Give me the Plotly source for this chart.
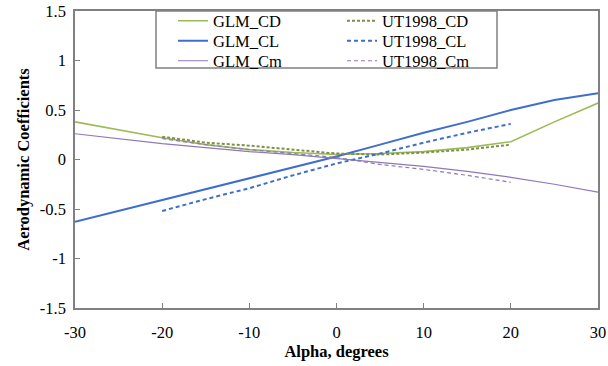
import plotly.graph_objects as go

alpha_glm = [-30, -25, -20, -15, -10, -5, 0, 5, 10, 15, 20, 25, 30]
glm_cd = [0.38, 0.30, 0.22, 0.15, 0.10, 0.07, 0.05, 0.06, 0.08, 0.12, 0.18, 0.38, 0.57]
glm_cl = [-0.63, -0.52, -0.41, -0.30, -0.19, -0.08, 0.03, 0.15, 0.27, 0.38, 0.50, 0.60, 0.67]
glm_cm = [0.26, 0.21, 0.16, 0.12, 0.08, 0.05, 0.01, -0.03, -0.07, -0.12, -0.18, -0.25, -0.33]

alpha_ut = [-20, -15, -10, -5, 0, 5, 10, 15, 20]
ut_cd = [0.23, 0.17, 0.14, 0.10, 0.06, 0.05, 0.07, 0.10, 0.15]
ut_cl = [-0.52, -0.40, -0.29, -0.16, -0.04, 0.06, 0.17, 0.27, 0.36]
ut_cm = [0.21, 0.15, 0.10, 0.06, 0.02, -0.05, -0.10, -0.16, -0.23]

x_ticks = [-30, -20, -10, 0, 10, 20, 30]
x_tick_text = ["-30", "-20", "-10", "0", "10", "20", "30"]
y_ticks = [-1.5, -1, -0.5, 0, 0.5, 1, 1.5]
y_tick_text = ["-1.5", "-1", "-0.5", "0", "0.5", "1", "1.5"]

GREEN = "#9BBB59"
BLUE = "#3F6FCB"
PURPLE = "#8E78B8"
FONT = "Liberation Serif, Times New Roman, serif"
FS = 16.5

# plot area in pixels: left 75, top 11, width 523, height 297
def px_x(p):
    return (p - 75) / 523

def px_y(p):
    return 1 - (p - 11) / 297

fig = go.Figure()
fig.add_trace(go.Scatter(x=alpha_glm, y=glm_cd, name="GLM_CD", mode="lines", showlegend=True,
                         line=dict(color=GREEN, width=1.6), legend="legend"))
fig.add_trace(go.Scatter(x=alpha_glm, y=glm_cl, name="GLM_CL", mode="lines", showlegend=True,
                         line=dict(color=BLUE, width=2), legend="legend2"))
fig.add_trace(go.Scatter(x=alpha_glm, y=glm_cm, name="GLM_Cm", mode="lines", showlegend=True,
                         line=dict(color=PURPLE, width=1.2), legend="legend3"))
fig.add_trace(go.Scatter(x=alpha_ut, y=ut_cd, name="UT1998_CD", mode="lines", showlegend=True,
                         line=dict(color="#7F8F4A", width=2, dash="3px,2px"), legend="legend4"))
fig.add_trace(go.Scatter(x=alpha_ut, y=ut_cl, name="UT1998_CL", mode="lines", showlegend=True,
                         line=dict(color=BLUE, width=2, dash="4px,3px"), legend="legend5"))
fig.add_trace(go.Scatter(x=alpha_ut, y=ut_cm, name="UT1998_Cm", mode="lines", showlegend=True,
                         line=dict(color=PURPLE, width=1.2, dash="4px,3px"), legend="legend6"))

leg_common = dict(
    bgcolor="rgba(0,0,0,0)", borderwidth=0, font=dict(family=FONT, size=FS, color="black"),
    xref="paper", yref="paper", xanchor="left", yanchor="middle", itemwidth=30,
)
row_y = [21, 41, 61]
col_x = [173, 342]

fig.update_layout(
    width=608, height=366,
    showlegend=True,
    margin=dict(l=75, r=10, t=11, b=58, autoexpand=False),
    paper_bgcolor="white", plot_bgcolor="white",
    font=dict(family=FONT, size=FS, color="black"),
    legend=dict(x=px_x(col_x[0]), y=px_y(row_y[0]), **leg_common),
    legend2=dict(x=px_x(col_x[0]), y=px_y(row_y[1]), **leg_common),
    legend3=dict(x=px_x(col_x[0]), y=px_y(row_y[2]), **leg_common),
    legend4=dict(x=px_x(col_x[1]), y=px_y(row_y[0]), **leg_common),
    legend5=dict(x=px_x(col_x[1]), y=px_y(row_y[1]), **leg_common),
    legend6=dict(x=px_x(col_x[1]), y=px_y(row_y[2]), **leg_common),
    xaxis=dict(
        range=[-30, 30], tickvals=x_ticks, ticktext=x_tick_text, ticks="inside", ticklen=5,
        tickcolor="#808080", showline=True, linecolor="#808080", linewidth=1.5, mirror=True,
        showgrid=False, zeroline=False, tickfont=dict(family=FONT, size=FS, color="black"),
        ticklabelstandoff=8, automargin=False, ticklabeloverflow="allow",
        title=dict(text="<b>Alpha, degrees</b>", font=dict(family=FONT, size=FS, color="black"),
                   standoff=0),
    ),
    yaxis=dict(
        range=[-1.5, 1.5], tickvals=y_ticks, ticktext=y_tick_text, ticks="inside", ticklen=5,
        tickcolor="#808080", showline=True, linecolor="#808080", linewidth=1.5, mirror=True,
        showgrid=False, zeroline=False, tickfont=dict(family=FONT, size=FS, color="black"),
        ticklabelstandoff=4, automargin=False,
        title=dict(text="<b>Aerodynamic Coefficients</b>",
                   font=dict(family=FONT, size=FS, color="black"), standoff=6),
    ),
    shapes=[dict(type="rect", xref="paper", yref="paper",
                 x0=px_x(156), x1=px_x(497), y0=px_y(68), y1=1.0,
                 line=dict(color="#808080", width=1.5), fillcolor="rgba(0,0,0,0)")],
)

fig.write_html("out.html", config={"displayModeBar": False},
               post_script="document.body.style.margin='0px';")
